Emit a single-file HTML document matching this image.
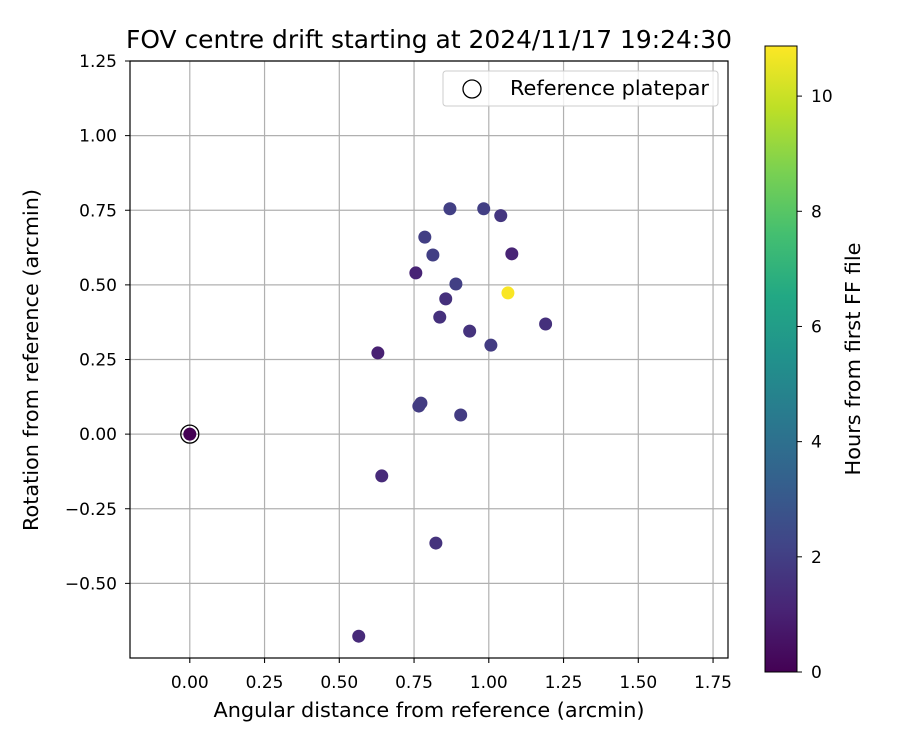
<!DOCTYPE html>
<html><head><meta charset="utf-8"><style>
body{margin:0;background:#fff;font-family:"Liberation Sans","DejaVu Sans",sans-serif}
svg text{font-family:"DejaVu Sans","Liberation Sans",sans-serif;fill:#000}
</style></head><body>
<svg id="chart" width="900" height="750" viewBox="0 0 900 750">
<defs><linearGradient id="vir" x1="0" y1="1" x2="0" y2="0">
<stop offset="0" stop-color="#440154"/><stop offset="0.1" stop-color="#482475"/><stop offset="0.2" stop-color="#414487"/><stop offset="0.3" stop-color="#355f8d"/><stop offset="0.4" stop-color="#2a788e"/><stop offset="0.5" stop-color="#21918c"/><stop offset="0.6" stop-color="#22a884"/><stop offset="0.7" stop-color="#44bf70"/><stop offset="0.8" stop-color="#7ad151"/><stop offset="0.9" stop-color="#bddf26"/><stop offset="1" stop-color="#fde725"/></linearGradient></defs>
<text x="429" y="48" font-size="25" text-anchor="middle" textLength="606" lengthAdjust="spacingAndGlyphs">FOV centre drift starting at 2024/11/17 19:24:30</text>
<g id="grid"></g><g id="points"></g>
<rect x="130" y="61" width="598" height="597" fill="none" stroke="#000" stroke-width="1.2"/>
<text x="429" y="717" font-size="20" text-anchor="middle" textLength="431" lengthAdjust="spacingAndGlyphs">Angular distance from reference (arcmin)</text>
<text transform="translate(38,360) rotate(-90)" font-size="20" text-anchor="middle" textLength="342" lengthAdjust="spacingAndGlyphs">Rotation from reference (arcmin)</text>
<g>
<rect x="443" y="71" width="275" height="35" rx="3" fill="#fff" fill-opacity="0.8" stroke="#ccc"/>
<circle cx="472" cy="89" r="9" fill="none" stroke="#000" stroke-width="1.3"/>
<text x="510" y="95" font-size="20" textLength="199" lengthAdjust="spacingAndGlyphs">Reference platepar</text></g>
<rect x="765" y="46" width="32" height="626" fill="url(#vir)" stroke="#000" stroke-width="1"/>
<g id="cbticks"></g>
<text transform="translate(860,359) rotate(-90)" font-size="20" text-anchor="middle" textLength="233" lengthAdjust="spacingAndGlyphs">Hours from first FF file</text>
</svg>
<script>
const xValues=[0,0.565,0.642,0.823,0.629,0.766,0.773,0.906,0.756,0.786,0.813,0.87,0.983,1.04,1.077,0.89,0.856,0.836,0.936,1.007,1.19,1.064];
const yValues=[0,-0.677,-0.14,-0.365,0.272,0.094,0.104,0.064,0.54,0.66,0.60,0.755,0.755,0.732,0.604,0.503,0.453,0.392,0.345,0.298,0.369,0.473];
const hours=[0,1.3,1.3,1.6,1.0,1.9,1.9,1.9,1.1,2.0,2.0,2.0,2.0,1.7,1.1,2.0,1.5,1.5,1.6,1.9,1.5,10.8];
const xTicks=[0,0.25,0.5,0.75,1.0,1.25,1.5,1.75];
const yTicks=[-0.5,-0.25,0,0.25,0.5,0.75,1.0,1.25];
const cTicks=[0,2,4,6,8,10];
const NS="http://www.w3.org/2000/svg";
const X=v=>130+(v+0.2)/2.0*598, Y=v=>658-(v+0.75)/2.0*597, C=v=>672-v/10.87*626;
const vir=["#440154","#482475","#414487","#355f8d","#2a788e","#21918c","#22a884","#44bf70","#7ad151","#bddf26","#fde725"];
function hx(c){return [1,3,5].map(i=>parseInt(c.substr(i,2),16));}
function col(h){let t=Math.max(0,Math.min(1,h/10.87))*10,i=Math.min(9,Math.floor(t)),f=t-i,a=hx(vir[i]),b=hx(vir[i+1]);return "rgb("+a.map((v,k)=>Math.round(v+(b[k]-v)*f)).join(",")+")";}
function mk(tag,at,par){const e=document.createElementNS(NS,tag);for(const k in at)e.setAttribute(k,at[k]);document.getElementById(par).appendChild(e);return e;}
xTicks.forEach(t=>{const l=mk("line",{x1:X(t),x2:X(t),y1:61,y2:663,stroke:"#b0b0b0","stroke-width":1.2},"grid");


mk("line",{x1:X(t),x2:X(t),y1:658,y2:663,stroke:"#000"},"grid");
const tx=mk("text",{x:X(t),y:688,"font-size":17,"text-anchor":"middle"},"grid");tx.textContent=t.toFixed(2);

});
yTicks.forEach(t=>{const l=mk("line",{x1:130,x2:728,y1:Y(t),y2:Y(t),stroke:"#b0b0b0","stroke-width":1.2},"grid");


mk("line",{x1:125,x2:130,y1:Y(t),y2:Y(t),stroke:"#000"},"grid");
const tx=mk("text",{x:117,y:Y(t)+6,"font-size":17,"text-anchor":"end"},"grid");tx.textContent=t.toFixed(2).replace("-","\u2212");

});
xValues.forEach((v,i)=>{const c=mk("circle",{cx:X(v),cy:Y(yValues[i]),r:6.5,fill:col(hours[i])},"points");

});
const rc=mk("circle",{cx:X(0),cy:Y(0),r:9,fill:"none",stroke:"#000","stroke-width":1.3},"points");


cTicks.forEach(t=>{mk("line",{x1:797,x2:802,y1:C(t),y2:C(t),stroke:"#000"},"cbticks");
const tx=mk("text",{x:811,y:C(t)+6,"font-size":17},"cbticks");tx.textContent=t;

});
</script>
</body></html>
